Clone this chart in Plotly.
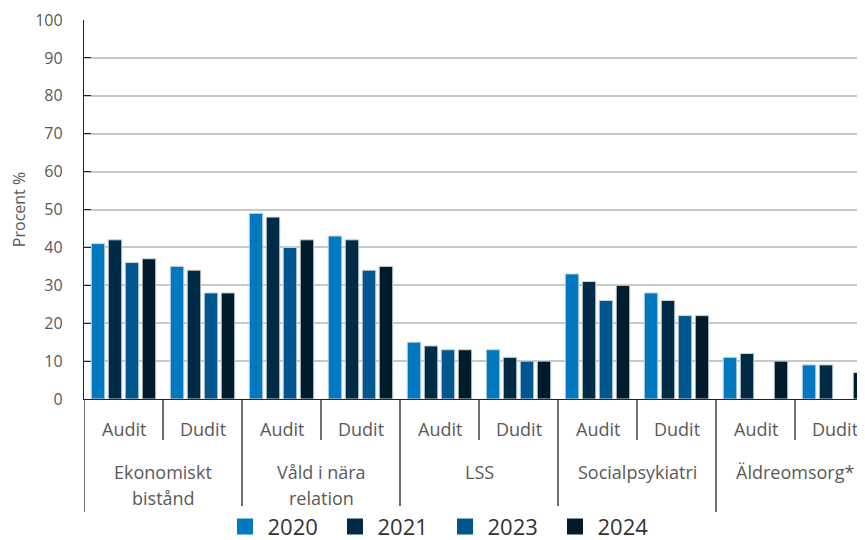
import plotly.graph_objects as go

groups = ["Ekonomiskt<br>bistånd", "Våld i nära<br>relation", "LSS", "Socialpsykiatri", "Äldreomsorg*"]
tests = ["Audit", "Dudit"]
years = ["2020", "2021", "2023", "2024"]

v2020 = [41, 35, 49, 43, 15, 13, 33, 28, 11, 9]
v2021 = [42, 34, 48, 42, 14, 11, 31, 26, 12, 9]
v2023 = [36, 28, 40, 34, 13, 10, 26, 22, None, None]
v2024 = [37, 28, 42, 35, 13, 10, 30, 22, 10, 7]

colors = ["#0079C1", "#002B46", "#00578F", "#001C2C"]

n_cat = len(groups) * len(tests)
xpos = list(range(n_cat))
inner = [t for _ in groups for t in tests]

fig = go.Figure()
for name, vals, col in zip(years, [v2020, v2021, v2023, v2024], colors):
    fig.add_trace(go.Bar(
        x=xpos, y=vals, name=name, showlegend=False, legendgroup=name,
        marker=dict(color=col, line=dict(color="#cfd8e0", width=1)),
    ))
    fig.add_trace(go.Scatter(
        x=[None], y=[None], mode="markers", name=name, legendgroup=name,
        marker=dict(symbol="square", size=21, color=col),
    ))

label_col = "#595959"
# inner labels + inner ticks
for i, t in enumerate(inner):
    fig.add_annotation(x=i, y=-0.079, xref="x", yref="paper", text=t, showarrow=False,
                       yanchor="middle", font=dict(size=18, color=label_col))
for g in range(len(groups)):
    fig.add_shape(type="line", xref="x", yref="paper", x0=2 * g + 0.5, x1=2 * g + 0.5,
                  y0=0, y1=-0.108, line=dict(color="#222222", width=1.3))
    fig.add_shape(type="line", xref="x", yref="paper", x0=2 * g - 0.5, x1=2 * g - 0.5,
                  y0=0, y1=-0.298, line=dict(color="#222222", width=1.3))
    lines = groups[g].split("<br>")
    for k, ln in enumerate(lines):
        fig.add_annotation(x=2 * g + 0.5, y=-0.1926 - 0.0686 * k, xref="x", yref="paper",
                           text=ln, showarrow=False, yanchor="middle",
                           font=dict(size=18, color=label_col))

fig.update_layout(
    width=857, height=532,
    margin=dict(l=76, r=0, t=12, b=141, autoexpand=False),
    paper_bgcolor="white", plot_bgcolor="white",
    font=dict(family="Open Sans", color="#404040", size=16),
    barmode="group", bargap=0.14, bargroupgap=0.2,
    showlegend=True,
    legend=dict(orientation="h", xref="container", yref="container",
                x=0.507, xanchor="center", y=0.025, yanchor="middle",
                font=dict(size=22, color="#333333"), itemwidth=35,
                entrywidth=60, entrywidthmode="pixels",
                traceorder="normal"),
)
fig.update_yaxes(
    range=[0, 100], dtick=10, showgrid=True, gridcolor="#c8c8c8", gridwidth=2,
    showline=True, linecolor="#222222", linewidth=1.3,
    ticks="inside", ticklen=7, tickcolor="#222222",
    tickfont=dict(size=16, color=label_col), ticklabelstandoff=17,
    title=dict(text="Procent %", font=dict(size=16, color=label_col), standoff=8),
    zeroline=False, automargin=False,
)
fig.update_xaxes(
    range=[-0.5, 9.386], showline=True, linecolor="#222222", linewidth=1.3,
    showticklabels=False, ticks="", showgrid=False, zeroline=False, automargin=False,
)

fig.write_html("out.html")
